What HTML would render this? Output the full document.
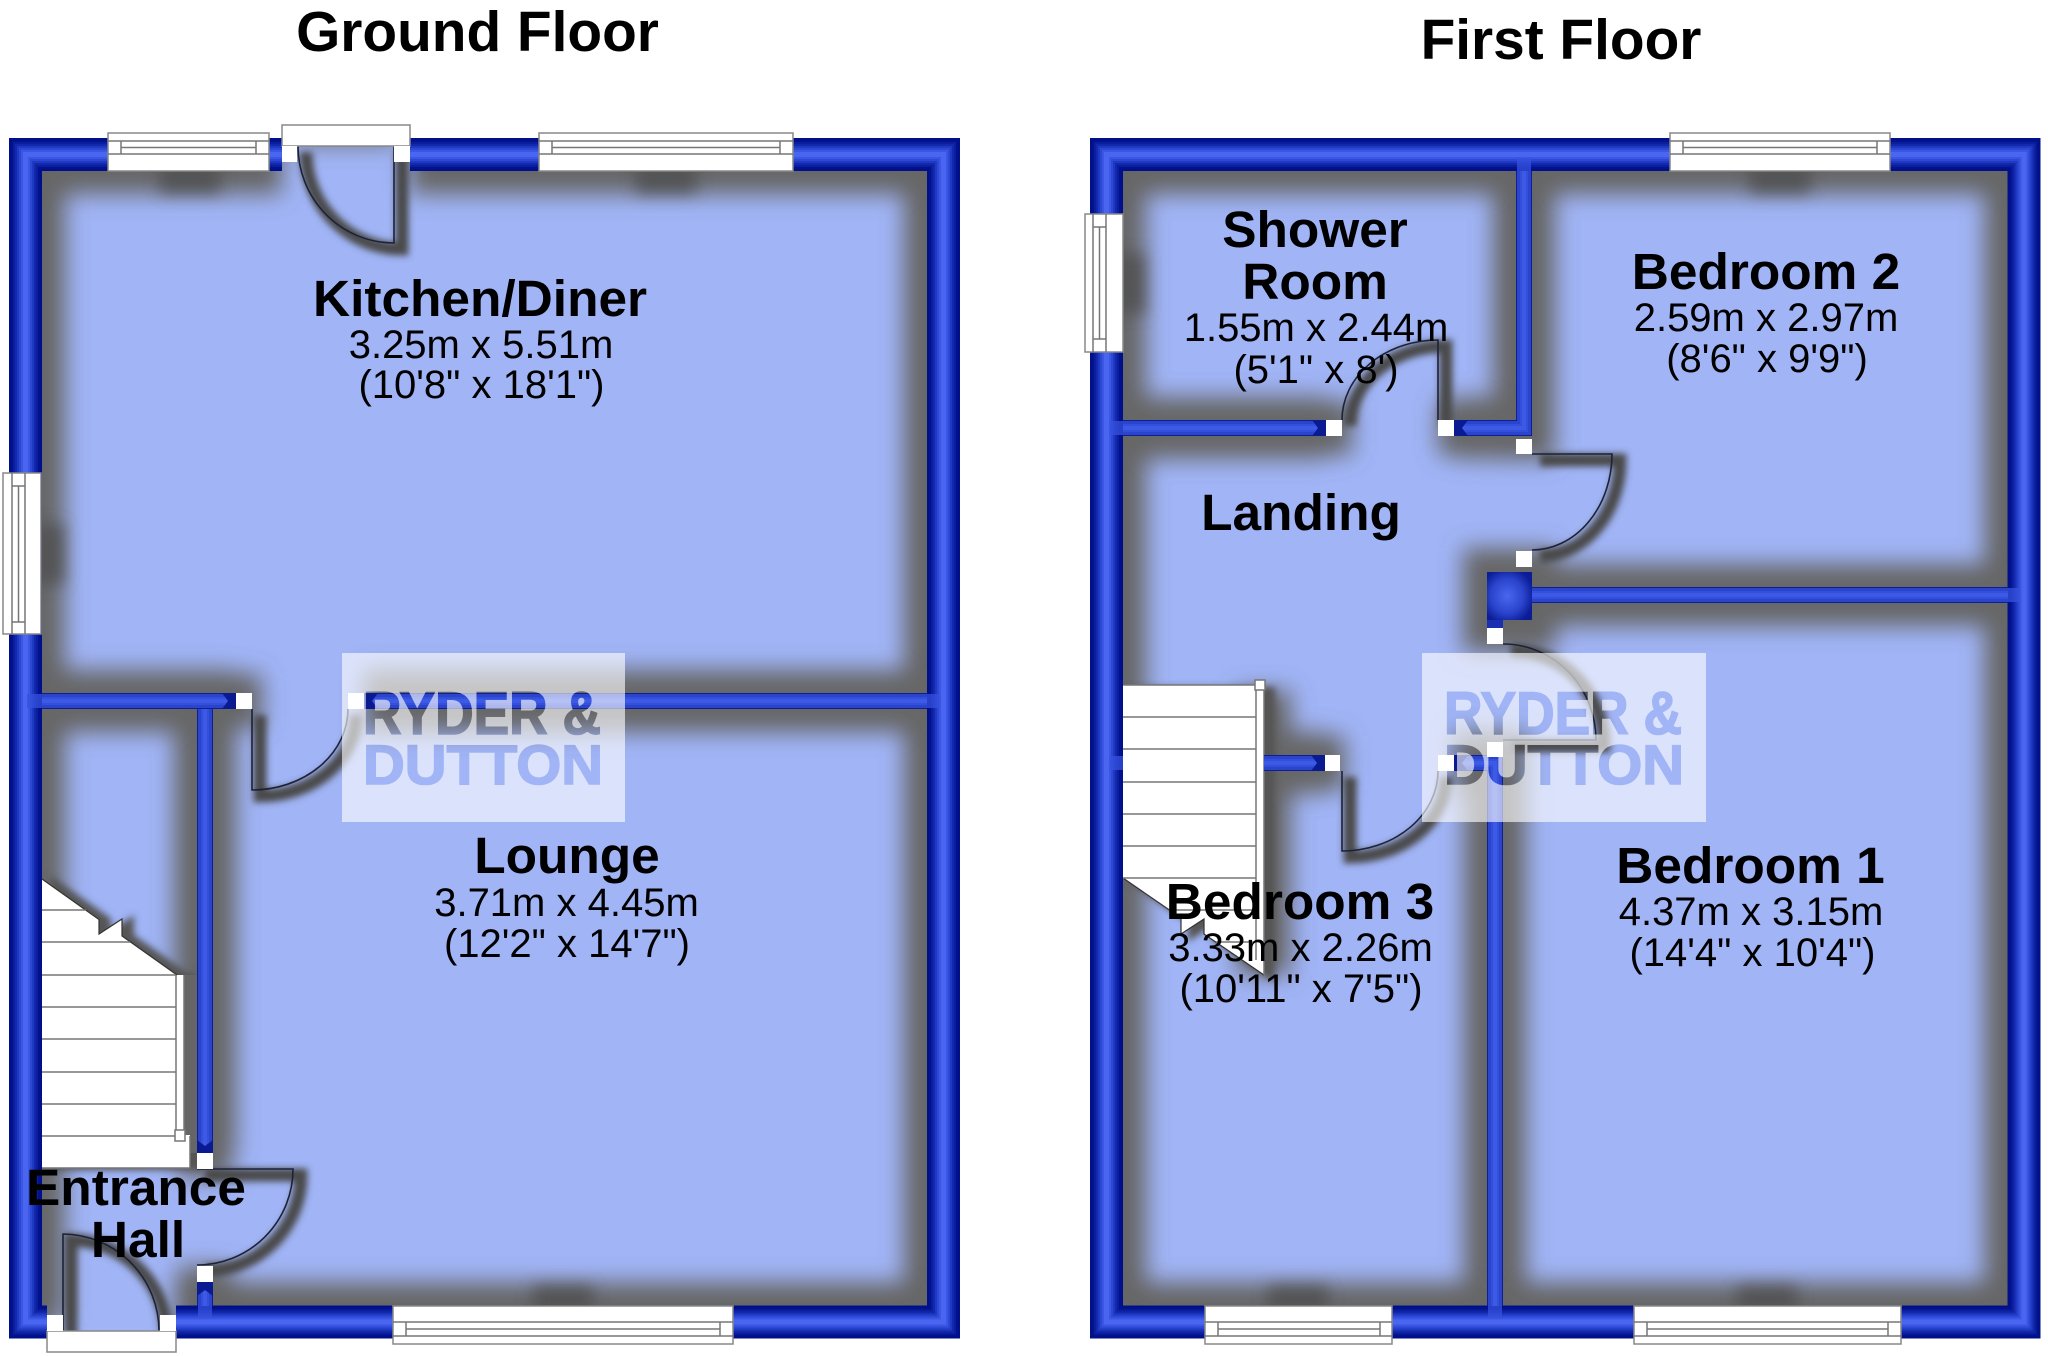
<!DOCTYPE html>
<html><head><meta charset="utf-8"><title>Floor Plan</title>
<style>
html,body{margin:0;padding:0;background:#fff;width:2048px;height:1356px;overflow:hidden}
svg{display:block}
text{font-family:"Liberation Sans",Arial,sans-serif;fill:#000;text-anchor:middle}
.h{font-weight:bold;font-size:51.4px}
.d{font-size:40px}
.t{font-weight:bold;font-size:56.8px}
.w{fill:#fff;stroke:#888;stroke-width:1.5}
.l{stroke:#777;stroke-width:1.5;fill:none}
.s{fill:#fff}
.leaf{fill:none;stroke:#1c2238;stroke-width:1.6}
.mt{text-anchor:start;font-weight:bold;fill:#000;stroke:#000;stroke-width:1.6}
</style></head><body>
<svg width="2048" height="1356" viewBox="0 0 2048 1356" xmlns="http://www.w3.org/2000/svg">
<defs>
<filter id="b12" x="-20%" y="-20%" width="140%" height="140%"><feGaussianBlur stdDeviation="11.5"/></filter>
<filter id="b3" x="-30%" y="-30%" width="160%" height="160%"><feGaussianBlur stdDeviation="3.500"/></filter>
<filter id="b7" x="-60%" y="-60%" width="220%" height="220%"><feGaussianBlur stdDeviation="8"/></filter>
<clipPath id="floors"><rect x="9" y="138" width="951" height="1200"/><rect x="1090" y="138" width="950" height="1200"/></clipPath>
<radialGradient id="blk" cx="0.45" cy="0.5" r="0.6"><stop offset="0" stop-color="#4a66f0"/><stop offset="0.6" stop-color="#2a44cc"/><stop offset="1" stop-color="#0a1c96"/></radialGradient>
<path id="outer" d="M282 154.5H25.500V1322H47M176 1322H943.500V154.500H410M1106.500 154.500H2024V1322H1106.500Z"/>
<path id="thin" d="M42 701H236M364 701H927M205 709V1153M205 1282V1306M1123 428H1326M1454 428H1524V171M1532 595H2008M1264 763H1325M1454 763H1495V1306"/>
<path id="leaves" d="M394 146V243A96 97 0 0 1 298 146M63 1331V1234A97 97 0 0 1 159 1331M197 1169H293A96 96 0 0 1 197 1265M252 709V790A96 81 0 0 0 348 709M1438 420V340A96 80 0 0 0 1342 420M1532 454H1612A80 96 0 0 1 1532 550M1342 771V851A96 80 0 0 0 1438 771M1503 740H1596A93 96 0 0 0 1503 644"/>
<polygon id="st1" points="42,879 99,919.500 99,934 122,919 122,936 177,975 184,975 184,1135 190,1135 190,1168 42,1168"/>
<polygon id="st2" points="1123,685 1264,685 1264,975 1204,934 1204,919 1181,934 1181,918 1123,878"/>
<mask id="wm1" maskUnits="userSpaceOnUse" x="342" y="653" width="283" height="169">
<rect x="342" y="653" width="283" height="169" fill="#fff"/>
<text class="mt" x="363" y="734" textLength="238" lengthAdjust="spacingAndGlyphs" style="font-size:60px">RYDER &amp;</text>
<text class="mt" x="363" y="784" textLength="240" lengthAdjust="spacingAndGlyphs" style="font-size:56px">DUTTON</text>
</mask>
<mask id="wm2" maskUnits="userSpaceOnUse" x="1422" y="653" width="284" height="169">
<rect x="1422" y="653" width="284" height="169" fill="#fff"/>
<text class="mt" x="1444" y="734" textLength="238" lengthAdjust="spacingAndGlyphs" style="font-size:60px">RYDER &amp;</text>
<text class="mt" x="1444" y="784" textLength="240" lengthAdjust="spacingAndGlyphs" style="font-size:56px">DUTTON</text>
</mask>
</defs>

<rect x="9" y="138" width="951" height="1200" fill="#a0b4f6"/>
<rect x="1090" y="138" width="950" height="1200" fill="#a0b4f6"/>

<!-- wall ambient shadows -->
<g clip-path="url(#floors)">
<g filter="url(#b12)" fill="none" stroke="#666">
<use href="#outer" stroke-width="79"/>
<path d="M27 701H236M364 701H940M205 700V1153M205 1282V1318M1110 428H1326M1454 428H1524V158M1532 595H2020M1264 763H1325M1454 763H1495V1318" stroke-width="62"/>
<path d="M236 701H262M205 1153V1178M205 1266V1282M1326 428H1352M1438 428H1460M1524 428V460M1524 551V575M1495 628V650M1264 690V975" stroke-width="54"/>
<rect x="1487" y="572" width="45" height="56" fill="#666" stroke-width="48"/>
<path d="M1495 742V760M1264 763H1345" stroke-width="54"/>
<rect x="297" y="128" width="97" height="16" fill="#666" stroke="none"/>
</g>
<!-- window dark spots -->
<g filter="url(#b7)" fill="#4c4c4c" opacity=".75">
<rect x="160" y="165" width="60" height="28"/><rect x="636" y="165" width="60" height="28"/>
<rect x="36" y="524" width="28" height="60"/><rect x="533" y="1286" width="60" height="26"/>
<rect x="1750" y="165" width="60" height="28"/><rect x="1117" y="254" width="28" height="60"/>
<rect x="1268" y="1286" width="60" height="26"/><rect x="1737" y="1286" width="60" height="26"/>
</g>
<!-- door and stair shadows -->
<use href="#leaves" fill="none" stroke="#484848" stroke-width="13" filter="url(#b3)" transform="translate(8,6)"/>
<g filter="url(#b3)" fill="#555" stroke="#555" stroke-width="4">
<use href="#st1" transform="translate(10,0)"/>
<use href="#st2" transform="translate(9,4)"/>
</g>
</g>
<rect x="184" y="975" width="13" height="178" fill="#666"/>

<use href="#leaves" class="leaf"/>

<!-- stairs -->
<use href="#st1" fill="#fff"/>
<path d="M42 879L99 919.500V934L122 919V936L177 975" fill="none" stroke="#333" stroke-width="1.200"/>
<path class="l" d="M42 910H86M42 942H130M42 975H176M42 1007H176M42 1039H176M42 1072H176M42 1104H176M42 1136H176M176 975V1136M184 975V1131M190 1136V1168M42 1168H190"/>
<rect x="175" y="1130" width="10" height="11" fill="#fff" stroke="#777" stroke-width="1.500"/>
<use href="#st2" fill="#fff"/>
<path d="M1123 878L1181 918V934L1204 919V934L1264 975" fill="none" stroke="#333" stroke-width="1.200"/>
<path class="l" d="M1123 685H1264M1123 717H1256M1123 749H1256M1123 782H1256M1123 814H1256M1123 846H1256M1123 878H1256M1169 910H1256M1216 942H1256M1256 685V960M1264 685V975"/>
<rect x="1255" y="680" width="10" height="10" fill="#fff" stroke="#777" stroke-width="1.500"/>

<!-- outer walls -->
<g fill="none" stroke-linejoin="miter" stroke-miterlimit="4">
<use href="#outer" stroke="#00108a" stroke-width="33"/>
<use href="#outer" stroke="#02128e" stroke-width="29"/>
<use href="#outer" stroke="#0a1e9e" stroke-width="25"/>
<use href="#outer" stroke="#1428ae" stroke-width="21"/>
<use href="#outer" stroke="#1f3ac2" stroke-width="17"/>
<use href="#outer" stroke="#2c48d4" stroke-width="13"/>
<use href="#outer" stroke="#3a56e4" stroke-width="9"/>
<use href="#outer" stroke="#4a66f0" stroke-width="5"/>
<!-- thin walls -->
<use href="#thin" stroke="#0d1e96" stroke-width="16"/>
<use href="#thin" stroke="#2b44cc" stroke-width="14"/>
<use href="#thin" stroke="#3450da" stroke-width="8"/>
<use href="#thin" stroke="#3d5ae6" stroke-width="4"/>
</g>
<!-- faint stubs where inner walls run into outer walls -->
<g fill="#3552de" opacity=".75">
<rect x="27" y="694" width="15" height="14"/><rect x="927" y="694" width="13" height="14"/>
<rect x="198" y="1306" width="14" height="12"/>
<rect x="1110" y="421" width="13" height="14"/><rect x="1517" y="158" width="14" height="13"/>
<rect x="2008" y="588" width="12" height="14"/><rect x="1110" y="756" width="13" height="14"/>
<rect x="1488" y="1306" width="14" height="12"/>
</g>
<rect x="1487" y="572" width="45" height="48" fill="url(#blk)"/>
<rect x="1487" y="620" width="16" height="8" fill="#1a30b0"/>
<!-- dark wedges near door jambs -->
<g fill="#0a1a90">
<polygon points="236,693 236,709 222,709 228,701 222,693"/>
<polygon points="364,693 364,709 378,709 372,701 378,693"/>
<polygon points="197,1153 213,1153 213,1140 205,1146 197,1140"/>
<polygon points="197,1282 213,1282 213,1296 205,1290 197,1296"/>
<polygon points="1326,420 1326,436 1312,436 1318,428 1312,420"/>
<polygon points="1454,420 1454,436 1468,436 1462,428 1468,420"/>
<polygon points="1325,755 1325,771 1311,771 1317,763 1311,755"/>
<polygon points="1454,755 1454,771 1468,771 1462,763 1468,755"/>
</g>

<!-- sills and jambs -->
<rect class="w" x="282" y="125" width="128" height="21"/>
<rect class="w" x="47" y="1331" width="129" height="21"/>
<g class="s">
<rect x="282" y="146" width="15" height="16"/><rect x="394" y="146" width="16" height="16"/>
<rect x="47" y="1315" width="16" height="16"/><rect x="160" y="1315" width="16" height="16"/>
<rect x="236" y="693" width="16" height="16"/><rect x="348" y="693" width="16" height="16"/>
<rect x="197" y="1153" width="16" height="16"/><rect x="197" y="1266" width="16" height="16"/>
<rect x="1326" y="420" width="16" height="16"/><rect x="1438" y="420" width="16" height="16"/>
<rect x="1516" y="439" width="16" height="15"/><rect x="1516" y="551" width="16" height="16"/>
<rect x="1487" y="628" width="16" height="16"/><rect x="1487" y="742" width="16" height="15"/>
<rect x="1325" y="755" width="15" height="16"/><rect x="1438" y="755" width="16" height="16"/>
</g>

<!-- windows top -->
<rect class="w" x="108" y="133" width="161" height="38"/><path class="l" d="M108 141H269M108 154H269M121 147.500H256M121 141V154M256 141V154"/>
<rect class="w" x="539" y="133" width="254" height="38"/><path class="l" d="M539 141H793M539 154H793M552 147.500H780M552 141V154M780 141V154"/>
<rect class="w" x="1670" y="133" width="220" height="38"/><path class="l" d="M1670 141H1890M1670 154H1890M1683 147.500H1877M1683 141V154M1877 141V154"/>
<!-- windows bottom -->
<rect class="w" x="393" y="1306" width="340" height="38"/><path class="l" d="M393 1322H733M393 1336H733M406 1329H720M406 1322V1336M720 1322V1336"/>
<rect class="w" x="1205" y="1306" width="187" height="38"/><path class="l" d="M1205 1322H1392M1205 1336H1392M1218 1329H1380M1218 1322V1336M1380 1322V1336"/>
<rect class="w" x="1634" y="1306" width="267" height="38"/><path class="l" d="M1634 1322H1901M1634 1336H1901M1647 1329H1888M1647 1322V1336M1888 1322V1336"/>
<!-- windows left -->
<rect class="w" x="3" y="473" width="38" height="161"/><path class="l" d="M12 473V634M25 473V634M18.500 486V622M12 486H25M12 622H25"/>
<rect class="w" x="1085" y="214" width="38" height="138"/><path class="l" d="M1093 214V352M1106 214V352M1099.500 227V339M1093 227H1106M1093 339H1106"/>

<!-- watermarks (letters knocked out of the white panel) -->
<rect x="342" y="653" width="283" height="169" fill="#fff" opacity=".62" mask="url(#wm1)"/>
<rect x="1422" y="653" width="284" height="169" fill="#fff" opacity=".62" mask="url(#wm2)"/>

<!-- titles -->
<text class="t" x="477.500" y="51">Ground Floor</text>
<text class="t" x="1561" y="59">First Floor</text>

<!-- ground floor labels -->
<text class="h" x="480" y="316">Kitchen/Diner</text>
<text class="d" x="481" y="358">3.25m x 5.51m</text>
<text class="d" x="481.500" y="398">(10'8" x 18'1")</text>
<text class="h" x="567" y="873">Lounge</text>
<text class="d" x="566.500" y="916">3.71m x 4.45m</text>
<text class="d" x="567" y="957">(12'2" x 14'7")</text>
<text class="h" x="136" y="1205">Entrance</text>
<text class="h" x="138" y="1257">Hall</text>

<!-- first floor labels -->
<text class="h" x="1315" y="247">Shower</text>
<text class="h" x="1315" y="299">Room</text>
<text class="d" x="1316" y="341">1.55m x 2.44m</text>
<text class="d" x="1316" y="383">(5'1" x 8')</text>
<text class="h" x="1766" y="289">Bedroom 2</text>
<text class="d" x="1766" y="331">2.59m x 2.97m</text>
<text class="d" x="1767" y="372">(8'6" x 9'9")</text>
<text class="h" x="1301" y="530">Landing</text>
<text class="h" x="1750.500" y="883">Bedroom 1</text>
<text class="d" x="1751" y="925">4.37m x 3.15m</text>
<text class="d" x="1752.500" y="966">(14'4" x 10'4")</text>
<text class="h" x="1300" y="919">Bedroom 3</text>
<text class="d" x="1300.500" y="961">3.33m x 2.26m</text>
<text class="d" x="1301" y="1002">(10'11" x 7'5")</text>
</svg>
</body></html>
